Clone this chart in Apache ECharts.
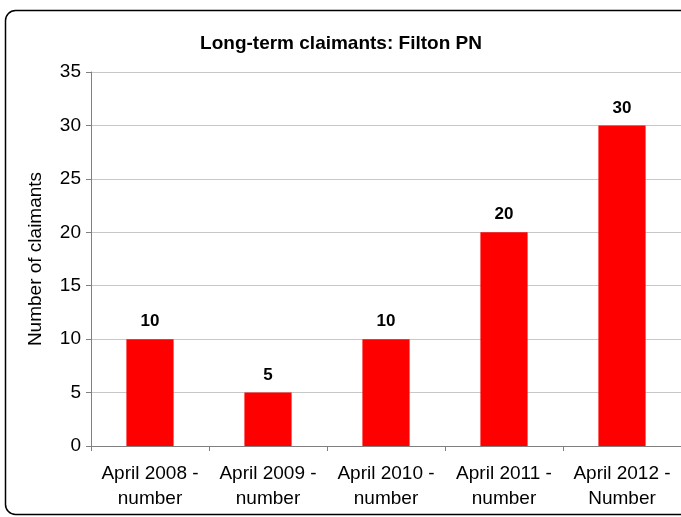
<!DOCTYPE html>
<html>
<head>
<meta charset="utf-8">
<script src="https://cdn.jsdelivr.net/npm/echarts@6/dist/echarts.min.js"></script>
<style>
  html, body { margin: 0; padding: 0; background: #fff; }
  #chart { width: 681px; height: 517px; }
</style>
</head>
<body>
<div id="chart"></div>
<script>
const categories = ['April 2008 -\nnumber', 'April 2009 -\nnumber', 'April 2010 -\nnumber', 'April 2011 -\nnumber', 'April 2012 -\nNumber']
const claimants = [10, 5, 10, 20, 30]
const yTicks = { min: 0, max: 35, interval: 5 }

const chart = echarts.init(document.getElementById('chart'))

const option = {
  animation: false,
  textStyle: { fontFamily: 'Liberation Sans, Arial, sans-serif' },
  title: {
    text: 'Long-term claimants: Filton PN',
    left: 336,
    top: 29,
    textAlign: 'center',
    textStyle: { fontSize: 19, fontWeight: 'bold', color: '#000' }
  },
  graphic: [
    {
      type: 'rect',
      shape: { x: 5.5, y: 10.5, width: 700, height: 504, r: 10 },
      style: { fill: 'none', stroke: '#000', lineWidth: 1.5 },
      z: -1
    }
  ],
  grid: {
    left: 91,
    top: 72,
    width: 593,
    height: 374
  },
  xAxis: {
    type: 'category',
    data: categories,
    axisLine: { lineStyle: { color: '#808080', width: 1 } },
    axisTick: { show: true, length: 5, lineStyle: { color: '#808080' } },
    axisLabel: { fontSize: 19, color: '#000', margin: 15, lineHeight: 25, interval: 0 }
  },
  yAxis: {
    type: 'value',
    min: yTicks.min,
    max: yTicks.max,
    interval: yTicks.interval,
    name: 'Number of claimants',
    nameLocation: 'middle',
    nameGap: 46,
    nameTextStyle: { fontSize: 19, color: '#000' },
    axisLine: { show: true, lineStyle: { color: '#808080', width: 1 } },
    axisTick: { show: true, length: 5, lineStyle: { color: '#808080' } },
    axisLabel: { fontSize: 19, color: '#000', margin: 10 },
    splitLine: { lineStyle: { color: '#c8c8c8', width: 1 } }
  },
  series: [
    {
      type: 'bar',
      data: claimants,
      barWidth: '40%',
      itemStyle: { color: '#ff0000' },
      label: {
        show: true,
        position: 'top',
        distance: 9,
        fontSize: 17,
        fontWeight: 'bold',
        color: '#000'
      }
    }
  ]
}

chart.setOption(option)
</script>
</body>
</html>
